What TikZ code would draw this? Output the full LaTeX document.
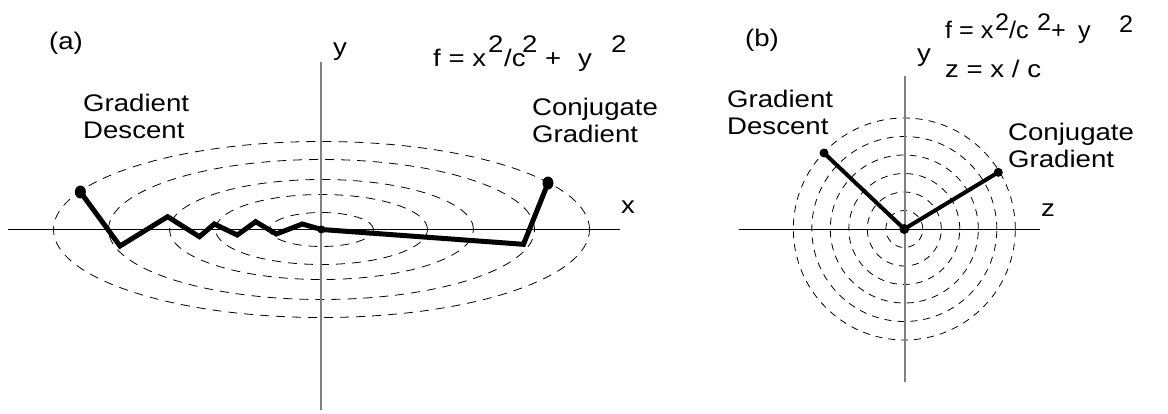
\documentclass[tikz,border=0pt]{standalone}
\usepackage{fontspec}
\setmainfont{Liberation Sans}
\usepackage{graphicx}
\newcommand{\hs}[1]{\scalebox{1.15}[1]{#1}}
\newcommand{\at}[3]{\rlap{\hspace{#1pt}\raisebox{#2pt}{\hs{#3}}}}
\newcommand{\atb}[3]{\rlap{\hspace{#1pt}\raisebox{#2pt}{\scalebox{1.05}[1]{#3}}}}
\begin{document}
\begin{tikzpicture}[x=1pt,y=-1pt,
  lbl/.style={inner sep=0pt, font=\fontsize{24}{27}\selectfont, align=left},
  contourA/.style={dash pattern=on 9pt off 7pt, line width=0.8pt},
  contourB/.style={dash pattern=on 7pt off 6pt, line width=0.8pt},
  xaxis/.style={line width=1pt, black},
  yaxis/.style={line width=1.5pt, black!50},
  pathA/.style={line width=5pt},
  pathB/.style={line width=4pt},
  dot/.style={fill=black}]
\useasboundingbox (0,0) rectangle (1168,413);
% ---------- panel (a)
\coordinate (oa) at (321.5,229.5);
\foreach \a/\b in {52/17,106/35,152/50,213/70,268/88}
  \draw[contourA] (oa) ellipse [x radius=\a pt, y radius=\b pt];
\coordinate (xa0) at (8,229);
\coordinate (xa1) at (620,229);
\coordinate (ya0) at (321,62);
\coordinate (ya1) at (321,410);
\draw[xaxis] (xa0) -- (xa1);
\draw[yaxis] (ya0) -- (ya1);
\coordinate (g0) at (80.4,192);
\coordinate (g1) at (120,246);
\coordinate (g2) at (167.6,216.7);
\coordinate (g3) at (199.4,236.7);
\coordinate (g4) at (214.3,224);
\coordinate (g5) at (237.3,235);
\coordinate (g6) at (255.6,221.7);
\coordinate (g7) at (276.3,234);
\coordinate (g8) at (302.3,224);
\draw[pathA] (g0) -- (g1) -- (g2) -- (g3) -- (g4) -- (g5) -- (g6) -- (g7) -- (g8) -- (oa);
\coordinate (c1) at (523.5,244.3);
\coordinate (c2) at (548,183);
\draw[pathA] (oa) -- (c1) -- (c2);
\fill[dot] (g0) ellipse [x radius=5.5pt, y radius=6.5pt];
\fill[dot] (c2) ellipse [x radius=5.5pt, y radius=6.5pt];
\fill[dot] (oa) circle [radius=4pt];
\node[lbl] (la) at (66,43) {\hs{(a)}};
\node[lbl, anchor=base west] (ylabA) at (333,55) {\hs{y}};
\node[lbl] (xlabA) at (628,207) {\hs{x}};
\node[lbl, anchor=base west] (gdA) at (83,138) {\hs{Gradient}\\\hs{Descent}};
\node[lbl, anchor=base west] (cgA) at (532,142) {\hs{Conjugate}\\\hs{Gradient}};
\node[lbl, anchor=base west] (fA) at (433,66.7)
  {\at{0}{0}{f = x}\at{55}{14}{2}\at{71}{0}{/c}\at{89}{14}{2}\at{112}{0}{+}\at{145}{0}{y}\at{178}{14}{2}\hspace{195pt}};
% ---------- panel (b)
\coordinate (ob) at (904.3,229);
\foreach \r in {1,...,6}
  \draw[contourB] (ob) circle [radius=18.5*\r pt];
\coordinate (xb0) at (739,229);
\coordinate (xb1) at (1040,229);
\coordinate (yb0) at (905,76);
\coordinate (yb1) at (905,382);
\draw[xaxis] (xb0) -- (xb1);
\draw[yaxis] (yb0) -- (yb1);
\coordinate (gb) at (824,153);
\coordinate (cb) at (998.3,172.3);
\draw[pathB] (gb) -- (ob) -- (cb);
\fill[dot] (gb) circle [radius=4.5pt];
\fill[dot] (cb) circle [radius=4.5pt];
\fill[dot] (ob) circle [radius=5pt];
\node[lbl] (lb) at (762,40) {\hs{(b)}};
\node[lbl, anchor=base west] (ylabB) at (917,61) {\hs{y}};
\node[lbl] (zlabB) at (1048,210) {\hs{z}};
\node[lbl, anchor=base west] (gdB) at (727,134) {\hs{Gradient}\\\hs{Descent}};
\node[lbl, anchor=base west] (cgB) at (1008,167) {\hs{Conjugate}\\\hs{Gradient}};
\node[lbl, anchor=base west] (fB) at (945,38)
  {\atb{0}{0}{f = x}\atb{50}{8}{2}\atb{64}{0}{/c}\atb{92}{8}{2}\atb{106}{0}{+}\atb{133}{0}{y}\atb{174}{6}{2}\hspace{190pt}};
\node[lbl, anchor=base west] (zB) at (945,77) {\hs{z = x / c}};
\end{tikzpicture}
\end{document}
